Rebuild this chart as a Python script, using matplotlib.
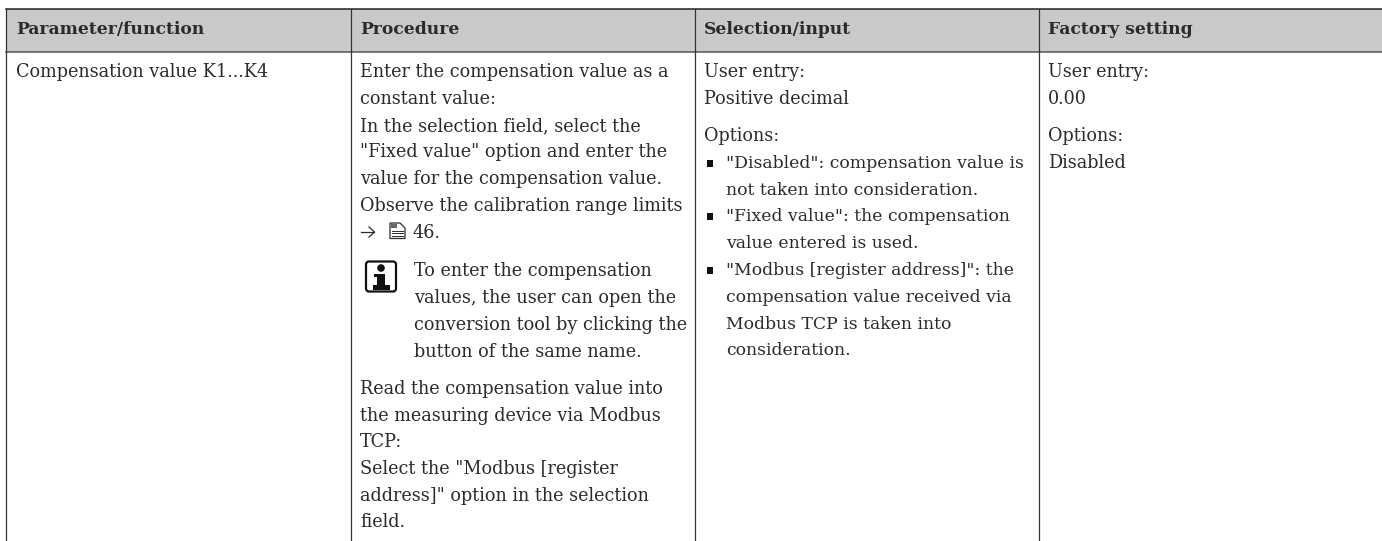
import matplotlib
matplotlib.use("Agg")
import matplotlib.pyplot as plt
from matplotlib.patches import Rectangle, FancyBboxPatch, Circle, Polygon

W, H = 1382, 541
INK = "#2b2b2b"

headers = ["Parameter/function", "Procedure", "Selection/input", "Factory setting"]
col1_lines = ["Compensation value K1...K4"]
col2_lines = [
    "Enter the compensation value as a", "constant value:",
    "In the selection field, select the", '"Fixed value" option and enter the',
    "value for the compensation value.", "Observe the calibration range limits",
]
ref_text = "46."
note_lines = ["To enter the compensation", "values, the user can open the",
              "conversion tool by clicking the", "button of the same name."]
col2b_lines = ["Read the compensation value into", "the measuring device via Modbus", "TCP:",
               'Select the "Modbus [register', 'address]" option in the selection', "field."]
col3a_lines = ["User entry:", "Positive decimal", "Options:"]
bullets = [['"Disabled": compensation value is', "not taken into consideration."],
           ['"Fixed value": the compensation', "value entered is used."],
           ['"Modbus [register address]": the', "compensation value received via",
            "Modbus TCP is taken into", "consideration."]]
col4_lines = ["User entry:", "0.00", "Options:", "Disabled"]

plt.rcParams["font.family"] = ["DejaVu Serif"]
fig = plt.figure(figsize=(W / 100, H / 100), dpi=100)
ax = fig.add_axes([0, 0, 1, 1])
ax.set_xlim(0, W); ax.set_ylim(H, 0); ax.axis("off")

COLS = [6.5, 351, 695.5, 1039.5]
TOP, HEAD = 8.5, 52
ax.add_patch(Rectangle((COLS[0], TOP), W - COLS[0], HEAD - TOP, fc="#c9c9c9", ec="none"))
ax.plot([COLS[0], W], [TOP, TOP], color="#222222", lw=1.1)
ax.plot([COLS[0], W], [HEAD, HEAD], color="#555555", lw=1.1)
for x in COLS:
    ax.plot([x, x], [TOP, H], color="#333333", lw=0.9)

FS = 12.7
def put(x, y, s, **kw):
    ax.text(x, y, s, fontsize=kw.pop("fs", FS), color=INK, va="baseline", ha="left", **kw)

for x, s in zip([16, 360, 704, 1048], headers):
    put(x, 34, s, fontweight="bold", fs=12.3)

put(16, 77, col1_lines[0])
for y, s in zip([77, 104, 131, 157, 184, 211], col2_lines):
    put(360, y, s)

# cross-reference arrow and page icon
ax.plot([361, 374], [232, 232], color=INK, lw=0.9)
ax.plot([369, 374.5, 369], [227, 232, 237], color=INK, lw=0.9)
ax.add_patch(Polygon([(390, 223), (400, 223), (405, 228), (405, 238.5), (390, 238.5)],
                     closed=True, fc="white", ec=INK, lw=0.9))
ax.add_patch(Rectangle((391.5, 224), 6, 4, fc="#666666", ec="none"))
for y in (230.5, 233, 235.5):
    ax.plot([392.5, 403], [y, y], color=INK, lw=0.7)
put(413, 238, ref_text)

# information icon
ax.add_patch(FancyBboxPatch((366, 261.5), 30, 30, boxstyle="round,pad=0,rounding_size=3",
                            fc="white", ec="#111111", lw=1.6))
ax.add_patch(Circle((381, 268), 3.8, fc="#111111", ec="none"))
ax.add_patch(Rectangle((377, 274), 8, 12, fc="#111111", ec="none"))
ax.add_patch(Rectangle((374, 274), 5, 3, fc="#111111", ec="none"))
ax.add_patch(Rectangle((373, 285), 17, 4.5, fc="#111111", ec="none"))

for y, s in zip([276, 303, 330, 357], note_lines):
    put(414, y, s)
for y, s in zip([394, 421, 447, 474, 501, 527], col2b_lines):
    put(360, y, s)

for y, s in zip([77, 104, 141], col3a_lines):
    put(704, y, s)
bullet_rows = [[168, 195], [221, 248], [275, 302, 329, 355]]
for ys, ls in zip(bullet_rows, bullets):
    ax.add_patch(Rectangle((707, ys[0] - 8), 6.5, 6.5, fc="#111111", ec="none"))
    for y, s in zip(ys, ls):
        put(726, y, s, fs=12.4)
for y, s in zip([77, 104, 141, 168], col4_lines):
    put(1048, y, s)

fig.savefig("out.png", dpi=100, facecolor="white")
